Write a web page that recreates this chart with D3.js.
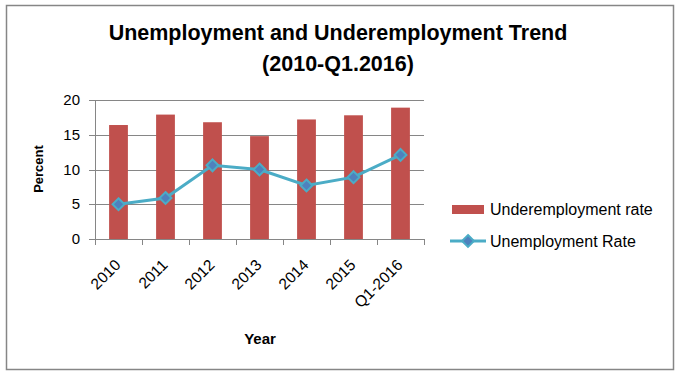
<!DOCTYPE html>
<html>
<head>
<meta charset="utf-8">
<script src="https://cdn.jsdelivr.net/npm/d3@7"></script>
<style>
  body { margin: 0; background: #fff; }
  text { font-family: "Liberation Sans", Arial, sans-serif; fill: #000; }
</style>
</head>
<body>
<div id="chart"></div>
<script>
// Data
const years = ["2010", "2011", "2012", "2013", "2014", "2015", "Q1-2016"];
const underemployment = [16.4, 17.9, 16.8, 14.8, 17.2, 17.8, 18.9];
const unemployment = [5.0, 5.9, 10.6, 10.0, 7.7, 8.9, 12.1];
const yTicks = [0, 5, 10, 15, 20];

const width = 678, height = 375;
const barColor = '#c0504d';
const lineColor = '#4bacc6';
const markerColor = '#4f81bd';
const gridColor = '#868686';

const svg = d3.select("#chart").append("svg")
    .attr("width", width)
    .attr("height", height);

// chart border
svg.append("rect")
    .attr("x", 6.5).attr("y", 5.5)
    .attr("width", 667).attr("height", 364)
    .attr("fill", "#fff")
    .attr("stroke", "#868686")
    .attr("stroke-width", 1.5);

// Title
const title = svg.append("text")
    .attr("text-anchor", "middle")
    .style("font-size", "21.5px")
    .style("font-weight", "bold");
title.append("tspan").attr("x", 338).attr("y", 40).text("Unemployment and Underemployment Trend");
title.append("tspan").attr("x", 338).attr("y", 71).text("(2010-Q1.2016)");

const plot = { left: 95, right: 424, top: 100, bottom: 239 };

const x = d3.scaleBand()
    .domain(years)
    .range([plot.left, plot.right])
    .paddingInner(0.6)
    .paddingOuter(0.3);

const xCat = d3.scaleBand().domain(years).range([plot.left, plot.right]);

const y = d3.scaleLinear()
    .domain([0, 20])
    .range([plot.bottom, plot.top]);

// gridlines
svg.append("g")
    .selectAll("line")
    .data(yTicks)
    .enter()
    .append("line")
    .attr("x1", plot.left - 6)
    .attr("x2", plot.right)
    .attr("y1", d => Math.round(y(d)) + 0.5)
    .attr("y2", d => Math.round(y(d)) + 0.5)
    .attr("stroke", gridColor);

// y axis line
svg.append("line")
    .attr("x1", plot.left + 0.5).attr("x2", plot.left + 0.5)
    .attr("y1", plot.top).attr("y2", plot.bottom + 6)
    .attr("stroke", gridColor);

// y tick labels
svg.append("g")
    .selectAll("text")
    .data(yTicks)
    .enter()
    .append("text")
    .attr("x", 80)
    .attr("y", d => y(d) + 5)
    .attr("text-anchor", "end")
    .style("font-size", "15px")
    .text(d => d);

// x ticks at category boundaries
const boundaries = years.map(d => xCat(d) + xCat.bandwidth());
svg.append("g")
    .selectAll("line")
    .data(boundaries)
    .enter()
    .append("line")
    .attr("x1", d => Math.round(d) + 0.5)
    .attr("x2", d => Math.round(d) + 0.5)
    .attr("y1", plot.bottom)
    .attr("y2", plot.bottom + 6)
    .attr("stroke", gridColor);

// bars
svg.append("g")
    .selectAll("rect")
    .data(years)
    .enter()
    .append("rect")
    .attr("x", d => x(d))
    .attr("width", x.bandwidth())
    .attr("y", (d, i) => y(underemployment[i]))
    .attr("height", (d, i) => plot.bottom - y(underemployment[i]))
    .attr("fill", barColor);

// x tick labels rotated
svg.append("g")
    .selectAll("text")
    .data(years)
    .enter()
    .append("text")
    .attr("text-anchor", "end")
    .attr("transform", d => `translate(${xCat(d) + xCat.bandwidth() / 2 + 3},${plot.bottom + 27}) rotate(-45)`)
    .style("font-size", "15.5px")
    .text(d => d);

// line
const cx = d => xCat(d) + xCat.bandwidth() / 2;
const line = d3.line()
    .x((d, i) => cx(years[i]))
    .y(d => y(d));

svg.append("path")
    .datum(unemployment)
    .attr("d", line)
    .attr("fill", "none")
    .attr("stroke", lineColor)
    .attr("stroke-width", 3);

const diamond = d3.symbol().type(d3.symbolDiamond2).size(90);
svg.append("g")
    .selectAll("path")
    .data(unemployment)
    .enter()
    .append("path")
    .attr("d", diamond)
    .attr("transform", (d, i) => `translate(${cx(years[i])},${y(d)})`)
    .attr("fill", markerColor)
    .attr("stroke", lineColor)
    .attr("stroke-width", 2);

// axis titles
svg.append("text")
    .attr("transform", "translate(43,169) rotate(-90)")
    .attr("text-anchor", "middle")
    .style("font-size", "13px")
    .style("font-weight", "bold")
    .text("Percent");

svg.append("text")
    .attr("x", 260)
    .attr("y", 344)
    .attr("text-anchor", "middle")
    .style("font-size", "15px")
    .style("font-weight", "bold")
    .text("Year");

// legend
const legend = svg.append("g");
legend.append("rect")
    .attr("x", 452).attr("y", 205)
    .attr("width", 32).attr("height", 9)
    .attr("fill", barColor);
legend.append("text")
    .attr("x", 490).attr("y", 215)
    .style("font-size", "16px")
    .text("Underemployment rate");

legend.append("line")
    .attr("x1", 450).attr("x2", 486)
    .attr("y1", 241).attr("y2", 241)
    .attr("stroke", lineColor)
    .attr("stroke-width", 3);
legend.append("path")
    .attr("d", diamond)
    .attr("transform", "translate(468,241)")
    .attr("fill", markerColor)
    .attr("stroke", lineColor)
    .attr("stroke-width", 2);
legend.append("text")
    .attr("x", 490).attr("y", 247)
    .style("font-size", "16px")
    .text("Unemployment Rate");
</script>
</body>
</html>
